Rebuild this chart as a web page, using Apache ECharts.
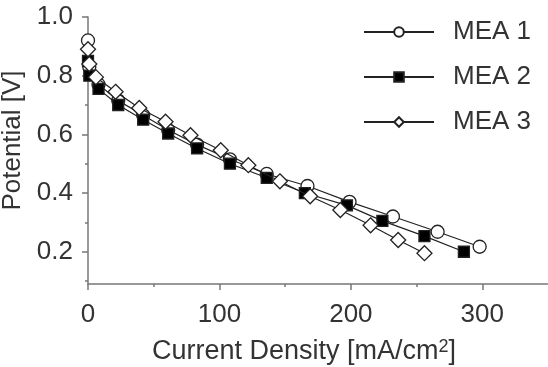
<!DOCTYPE html>
<html>
<head>
<meta charset="utf-8">
<script src="https://cdn.jsdelivr.net/npm/echarts@6/dist/echarts.min.js"></script>
<style>
  html, body { margin: 0; padding: 0; background: #fff; }
  #chart { width: 548px; height: 367px; }
</style>
</head>
<body>
<div id="chart"></div>
<script>
  // values
  const mea1X = [0, 1, 8, 23, 42, 61, 83, 108, 136, 167, 199, 232, 266, 298];
  const mea1Y = [0.92, 0.83, 0.77, 0.715, 0.665, 0.615, 0.565, 0.515, 0.465, 0.424, 0.37, 0.32, 0.268, 0.217];
  const mea2X = [0, 1, 8, 23, 42, 61, 83, 108, 136, 165, 197, 224, 256, 286];
  const mea2Y = [0.85, 0.80, 0.755, 0.70, 0.65, 0.603, 0.552, 0.50, 0.452, 0.40, 0.358, 0.305, 0.253, 0.20];
  const mea3X = [0, 1, 6, 21, 39, 59, 78, 101, 122, 146, 169, 192, 215, 236, 256];
  const mea3Y = [0.89, 0.84, 0.795, 0.745, 0.69, 0.643, 0.597, 0.546, 0.495, 0.44, 0.389, 0.342, 0.29, 0.24, 0.195];
  const seriesNames = ['MEA 1', 'MEA 2', 'MEA 3'];

  const xTicks = [0, 100, 200, 300];
  const xMinorTicks = [50, 150, 250];
  const yTicks = [0.2, 0.4, 0.6, 0.8, 1.0];
  const yMinorTicks = [0.1, 0.3, 0.5, 0.7, 0.9];

  const font = "'Liberation Sans', Arial, sans-serif";
  const axisColor = '#777';
  const textColor = '#333';
  const fs = 26;

  function pairs(xs, ys) {
    return xs.map((x, i) => [x, ys[i]]);
  }

  function lineSeries(name, xs, ys, symbol, size, fill, z) {
    return {
      name: name,
      type: 'line',
      data: pairs(xs, ys),
      symbol: symbol,
      symbolSize: size,
      showAllSymbol: true,
      z: z,
      lineStyle: { color: '#222', width: 1.2 },
      itemStyle: { color: fill, borderColor: '#222', borderWidth: 1.3 },
      emphasis: { disabled: true },
      animation: false
    };
  }

  const chart = echarts.init(document.getElementById('chart'));
  const option = {
    animation: false,
    grid: { left: 88, right: 0, top: 17, bottom: 83, containLabel: false, outerBoundsMode: 'none' },
    legend: {
      orient: 'vertical',
      left: 363,
      top: 18,
      padding: 0,
      itemWidth: 70,
      itemHeight: 12,
      itemGap: 17,
      data: seriesNames,
      textStyle: { fontFamily: font, fontSize: fs, lineHeight: 28, color: textColor, padding: [0, 0, 0, 14] }
    },
    xAxis: [
      {
        type: 'value',
        min: 0,
        max: 350,
        splitLine: { show: false },
        axisLine: { lineStyle: { color: axisColor, width: 1.5 } },
        axisTick: { customValues: xTicks, length: 6, lineStyle: { color: axisColor, width: 1.5 } },
        axisLabel: { customValues: xTicks, margin: 18, fontFamily: font, fontSize: fs, color: textColor },
        name: 'Current Density [mA/cm{s|2}]',
        nameLocation: 'middle',
        nameGap: 54,
        nameTextStyle: {
          fontFamily: font, fontSize: 27, color: textColor, padding: [0, 28, 0, 0],
          rich: { s: { fontFamily: font, fontSize: 18, color: textColor, verticalAlign: 'top', padding: [0, 0, 10, 0] } }
        }
      },
      {
        type: 'value',
        position: 'bottom',
        min: 0,
        max: 350,
        splitLine: { show: false },
        axisLine: { show: false },
        axisTick: { customValues: xMinorTicks, length: 3, lineStyle: { color: axisColor, width: 1.5 } },
        axisLabel: { show: false }
      }
    ],
    yAxis: [
      {
        type: 'value',
        min: 0.09,
        max: 1.0,
        splitLine: { show: false },
        axisLine: { show: true, lineStyle: { color: axisColor, width: 1.5 } },
        axisTick: { show: true, customValues: yTicks, length: 6, lineStyle: { color: axisColor, width: 1.5 } },
        axisLabel: {
          customValues: yTicks, margin: 15, fontFamily: font, fontSize: fs, color: textColor,
          formatter: v => v.toFixed(1)
        },
        name: 'Potential [V]',
        nameLocation: 'middle',
        nameGap: 60,
        nameTextStyle: { fontFamily: font, fontSize: fs, color: textColor, padding: [0, 0, 0, 20] }
      },
      {
        type: 'value',
        position: 'left',
        min: 0.09,
        max: 1.0,
        splitLine: { show: false },
        axisLine: { show: false },
        axisTick: { show: true, customValues: yMinorTicks, length: 3, lineStyle: { color: axisColor, width: 1.5 } },
        axisLabel: { show: false }
      }
    ],
    series: [
      lineSeries(seriesNames[0], mea1X, mea1Y, 'circle', 13, '#fff', 2),
      lineSeries(seriesNames[1], mea2X, mea2Y, 'rect', 11, '#000', 3),
      lineSeries(seriesNames[2], mea3X, mea3Y, 'diamond', 15, '#fff', 4)
    ]
  };
  chart.setOption(option);
</script>
</body>
</html>
